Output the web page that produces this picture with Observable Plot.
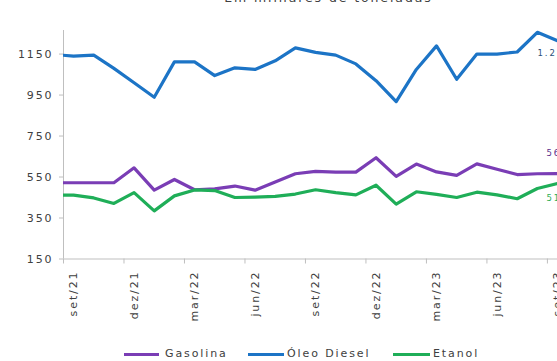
<!DOCTYPE html>
<html>
<head>
<meta charset="utf-8">
<script src="https://cdn.jsdelivr.net/npm/d3@7"></script>
<script src="https://cdn.jsdelivr.net/npm/@observablehq/plot@0.6"></script>
<style>
  html, body { margin: 0; padding: 0; background: #fff; }
  body { width: 557px; height: 361px; overflow: hidden; font-family: "DejaVu Sans", sans-serif; }
  #chart svg text { letter-spacing: 1.9px; }
  #chart svg text.last-label { letter-spacing: 1.2px; }
  #legend { position: relative; width: 557px; height: 21px; }
  #legend .sw { position: absolute; height: 3.5px; top: 12.5px; }
  #legend .lb { position: absolute; top: 7px; font-size: 11px; line-height: 13px; letter-spacing: 1.9px; color: #404040; white-space: nowrap; }
</style>
</head>
<body>
<div id="chart"></div>
<div id="legend"></div>
<script>
// Monthly volumes, thousand tonnes (ago/21 – set/23)
const months = ["ago/21","set/21","out/21","nov/21","dez/21","jan/22","fev/22","mar/22","abr/22","mai/22","jun/22","jul/22",
                "ago/22","set/22","out/22","nov/22","dez/22","jan/23","fev/23","mar/23","abr/23","mai/23","jun/23","jul/23",
                "ago/23","set/23"];
const gasolina = [522, 522, 522, 522, 595, 486, 538, 488, 492, 506, 486, 526,
                  566, 578, 574, 574, 644, 553, 613, 575, 558, 614, 588, 562,
                  566, 567];
const diesel   = [1148, 1140, 1145, 1080, 1010, 939, 1112, 1112, 1045, 1083, 1075, 1117,
                  1180, 1158, 1145, 1102, 1020, 918, 1075, 1190, 1027, 1150, 1150, 1160,
                  1256, 1215];
const etanol   = [462, 462, 448, 421, 474, 385, 458, 487, 484, 450, 452, 456,
                  467, 488, 474, 463, 510, 418, 478, 465, 450, 476, 463, 444,
                  494, 518];

const seriesNames = ["Gasolina", "Óleo Diesel", "Etanol"];
const seriesColors = ["#7a3db5", "#1c74c6", "#1fae58"];
const labelColors = ["#5a2d8c", "#2a4f7a", "#2fae55"];
const yTicks = [150, 350, 550, 750, 950, 1150];
const xTickLabels = ["set/21","dez/21","mar/22","jun/22","set/22","dez/22","mar/23","jun/23","set/23"];
const title = "Em milhares de toneladas";

// position 0 = set/21; ago/21 sits half a step left of the axis and is clipped
const pos = m => months.indexOf(m) - 1;
const values = [gasolina, diesel, etanol];
const rows = seriesNames.flatMap((s, k) => months.map((m, i) => ({serie: s, month: m, pos: pos(m), value: values[k][i]})));
const lastMonth = months[months.length - 1];
const labelOffsets = [[-11, -20], [-20, 13], [-11, 15]];

const ptBR = d3.formatLocale({decimal: ",", thousands: ".", grouping: [3], currency: ["R$", ""]});
const fmt = ptBR.format(",d");

// tick marks sit on category boundaries, labels on category centres
const boundaries = xTickLabels.map(l => pos(l) - 0.5);

const H = 340;
const axisColor = "#bfbfbf";
const textColor = "#404040";

// value of the latest month, one label per series
const lastLabels = seriesNames.map((s, k) =>
  Plot.text([{pos: pos(lastMonth), value: values[k][months.length - 1]}], {
    x: "pos", y: "value", text: d => fmt(d.value), fill: labelColors[k],
    textAnchor: "start", fontSize: 8.5, className: "last-label",
    dx: labelOffsets[k][0], dy: labelOffsets[k][1]
  })
);

const chart = Plot.plot({
  width: 557,
  height: H,
  marginLeft: 63,
  marginRight: 0,
  marginTop: 30,
  marginBottom: H - 258.5,
  x: {type: "linear", domain: [pos(months[1]) - 0.5, pos(lastMonth)], axis: null},
  y: {domain: [150, 1265], axis: null},
  color: {domain: seriesNames, range: seriesColors},
  style: {fontFamily: "DejaVu Sans, sans-serif", background: "#fff", overflow: "visible"},
  marks: [
    // title (its upper part falls outside the picture)
    Plot.text([title], {frameAnchor: "top", lineAnchor: "bottom", dy: -29, dx: 18, fontSize: 12.5, fill: textColor}),
    // axes
    Plot.axisY({ticks: yTicks, tickSize: 4, tickPadding: 6, stroke: axisColor, fill: textColor, fontSize: 11,
                tickFormat: d => String(d), label: null}),
    Plot.ruleX([pos(months[1]) - 0.5], {stroke: axisColor}),
    Plot.ruleY([150], {stroke: axisColor}),
    Plot.axisX({ticks: boundaries, tickSize: 5, stroke: axisColor, tickFormat: () => "", label: null}),
    Plot.text(xTickLabels, {x: d => pos(d), text: d => d, frameAnchor: "bottom", rotate: -90,
                            textAnchor: "end", lineAnchor: "middle", dy: 11.5, fontSize: 11, fill: textColor}),
    // series
    Plot.lineY(rows, {x: "pos", y: "value", z: "serie", stroke: "serie", strokeWidth: 3.2, clip: true, strokeLinejoin: "round"}),
    ...lastLabels
  ]
});
document.getElementById("chart").append(chart);

// legend below the plot
const legend = document.getElementById("legend");
const legendLayout = [[124, 35, 165], [248, 36, 287], [393, 37, 433]];
seriesNames.forEach((s, k) => {
  const [sx, sw, tx] = legendLayout[k];
  const sDiv = document.createElement("div");
  sDiv.className = "sw";
  sDiv.style.left = sx + "px";
  sDiv.style.width = sw + "px";
  sDiv.style.background = seriesColors[k];
  const t = document.createElement("span");
  t.className = "lb";
  t.style.left = tx + "px";
  t.textContent = s;
  legend.append(sDiv, t);
});
</script>
</body>
</html>
